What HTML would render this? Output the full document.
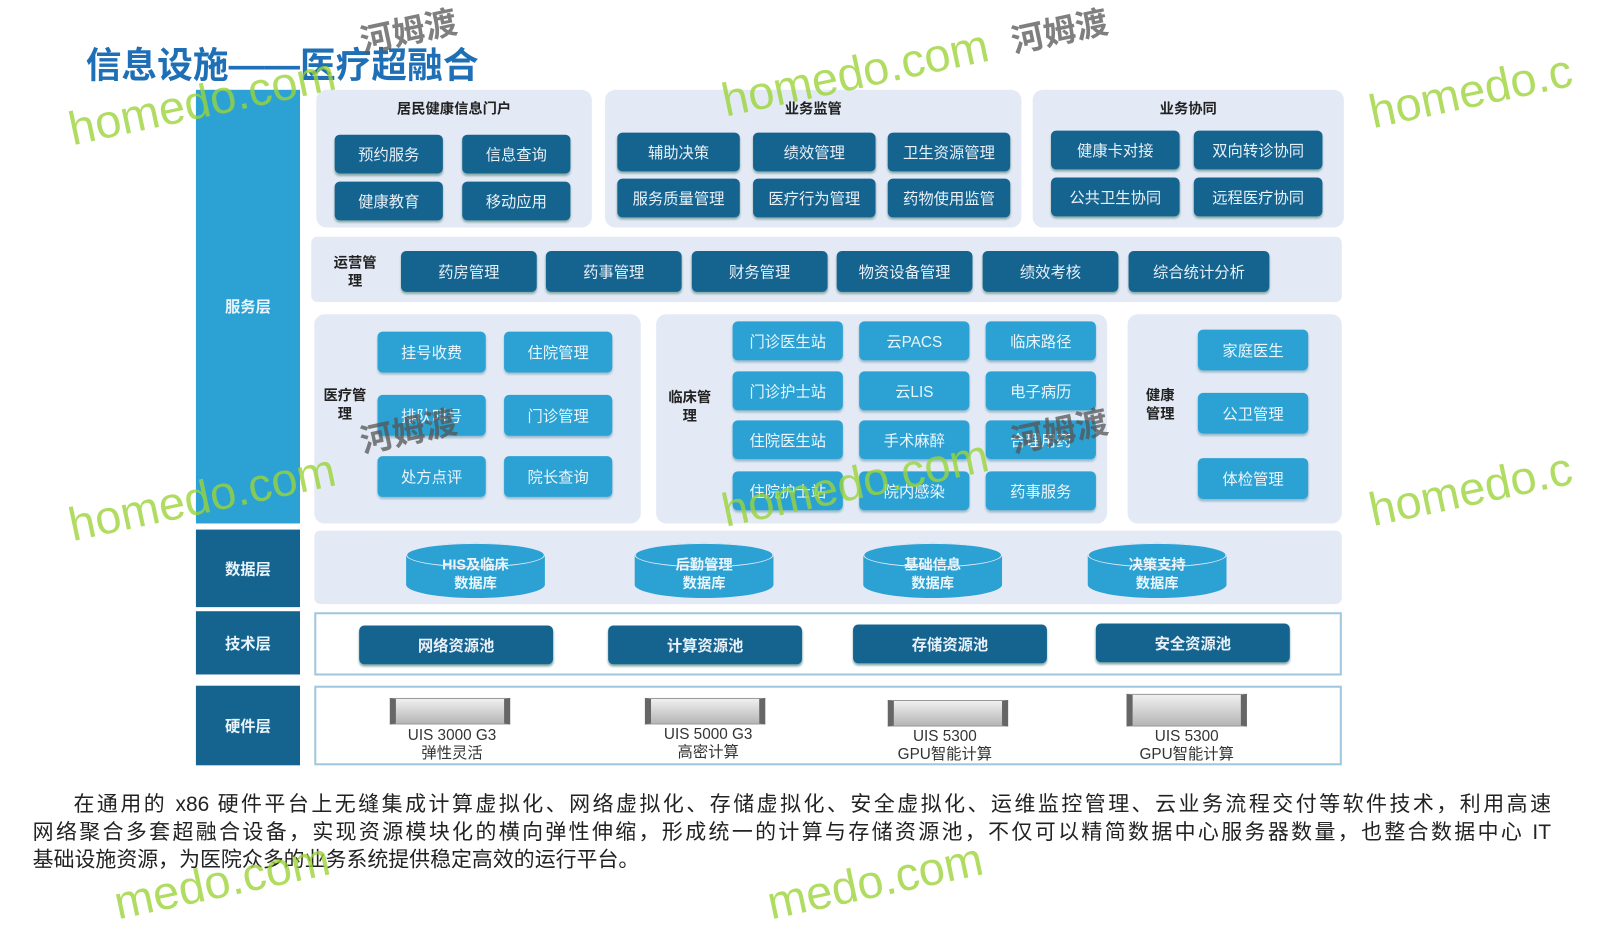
<!DOCTYPE html>
<html><head><meta charset="utf-8"><style>
*{margin:0;padding:0;box-sizing:border-box}
body{width:1600px;height:900px;background:#fff;position:relative;overflow:hidden;font-family:"Liberation Sans","Noto Sans CJK SC",sans-serif}
#w{position:absolute;left:0;top:0;width:1568px;height:882px;transform:scale(1.0204);transform-origin:0 0}
.a{position:absolute}
.p{position:absolute;background:#e4eaf5;border-radius:10px}
.d{position:absolute;background:#15648f;color:#e8f0f8;border-radius:5px;font-size:15px;display:flex;align-items:center;justify-content:center;box-shadow:0 2px 2px #8aa}
.l{position:absolute;background:#2ba2d3;color:#eaf6fc;border-radius:5px;font-size:15px;display:flex;align-items:center;justify-content:center;box-shadow:0 2px 2px #9bc}
.t{position:absolute;font-weight:bold;font-size:14px;color:#222;text-align:center;line-height:18px}
.bar{position:absolute;left:192px;width:102px;color:#e8f4fb;font-weight:bold;font-size:15px;display:flex;align-items:center;justify-content:center}
.db{position:absolute;width:136px;height:54px;background:#2ba2d3;border-radius:50%/13px;color:#eaf6fc;font-weight:bold;font-size:14px;display:flex;align-items:center;justify-content:center;text-align:center;line-height:18px;padding-top:6px}
.db:before{content:"";position:absolute;left:0;top:0;width:100%;height:24px;border-radius:50%;border:1.5px solid #e4eaf5;box-sizing:border-box}
.srv{position:absolute;width:118px;height:26px;background:linear-gradient(#f0f0f0,#b5b5b5);border:1px solid #999;border-left:6px solid #666;border-right:6px solid #666}
.sl{position:absolute;font-size:15px;color:#333;text-align:center;width:160px;line-height:18px}
.wm{position:absolute;color:#9bd43a;font-size:46px;transform:rotate(-12deg);white-space:nowrap;opacity:.8}
.wc{position:absolute;color:#555;font-size:32px;font-weight:bold;transform:rotate(-12deg);opacity:.75}
.ln{position:absolute;left:32px;width:1488px;font-size:20.5px;line-height:27px;color:#222;white-space:nowrap;text-align:justify;text-align-last:justify}
</style></head><body><div id="w">
<div class="a" style="left:84px;top:36px;font-size:35px;font-weight:bold;color:#1e6fb5">信息设施——医疗超融合</div>

<div class="bar" style="top:88px;height:425px;background:#2ba2d3">服务层</div>
<div class="bar" style="top:519px;height:76px;background:#15648f">数据层</div>
<div class="bar" style="top:599px;height:62px;background:#15648f">技术层</div>
<div class="bar" style="top:672px;height:78px;background:#15648f">硬件层</div>

<div class="p" style="left:310px;top:88px;width:270px;height:135px"></div>
<div class="t" style="left:310px;top:97px;width:270px">居民健康信息门户</div>
<div class="d" style="left:328px;top:132px;width:106px;height:38px">预约服务</div>
<div class="d" style="left:453px;top:132px;width:106px;height:38px">信息查询</div>
<div class="d" style="left:328px;top:178px;width:106px;height:38px">健康教育</div>
<div class="d" style="left:453px;top:178px;width:106px;height:38px">移动应用</div>

<div class="p" style="left:593px;top:88px;width:408px;height:135px"></div>
<div class="t" style="left:593px;top:97px;width:408px">业务监管</div>
<div class="d" style="left:605px;top:130px;width:120px;height:38px">辅助决策</div>
<div class="d" style="left:738px;top:130px;width:120px;height:38px">绩效管理</div>
<div class="d" style="left:870px;top:130px;width:120px;height:38px">卫生资源管理</div>
<div class="d" style="left:605px;top:175px;width:120px;height:38px">服务质量管理</div>
<div class="d" style="left:738px;top:175px;width:120px;height:38px">医疗行为管理</div>
<div class="d" style="left:870px;top:175px;width:120px;height:38px">药物使用监管</div>

<div class="p" style="left:1012px;top:88px;width:305px;height:135px"></div>
<div class="t" style="left:1012px;top:97px;width:305px">业务协同</div>
<div class="d" style="left:1030px;top:128px;width:126px;height:38px">健康卡对接</div>
<div class="d" style="left:1170px;top:128px;width:126px;height:38px">双向转诊协同</div>
<div class="d" style="left:1030px;top:174px;width:126px;height:38px">公共卫生协同</div>
<div class="d" style="left:1170px;top:174px;width:126px;height:38px">远程医疗协同</div>

<div class="p" style="left:305px;top:232px;width:1010px;height:64px;border-radius:6px"></div>
<div class="t" style="left:318px;top:248px;width:60px">运营管<br>理</div>
<div class="d" style="left:393px;top:246px;width:133px;height:40px">药房管理</div>
<div class="d" style="left:535px;top:246px;width:133px;height:40px">药事管理</div>
<div class="d" style="left:678px;top:246px;width:133px;height:40px">财务管理</div>
<div class="d" style="left:820px;top:246px;width:133px;height:40px">物资设备管理</div>
<div class="d" style="left:963px;top:246px;width:133px;height:40px">绩效考核</div>
<div class="d" style="left:1106px;top:246px;width:138px;height:40px">综合统计分析</div>

<div class="p" style="left:308px;top:308px;width:320px;height:205px"></div>
<div class="t" style="left:308px;top:378px;width:60px">医疗管<br>理</div>
<div class="l" style="left:370px;top:325px;width:106px;height:40px">挂号收费</div>
<div class="l" style="left:494px;top:325px;width:106px;height:40px">住院管理</div>
<div class="l" style="left:370px;top:387px;width:106px;height:40px">排队叫号</div>
<div class="l" style="left:494px;top:387px;width:106px;height:40px">门诊管理</div>
<div class="l" style="left:370px;top:447px;width:106px;height:40px">处方点评</div>
<div class="l" style="left:494px;top:447px;width:106px;height:40px">院长查询</div>

<div class="p" style="left:643px;top:308px;width:442px;height:205px"></div>
<div class="t" style="left:645px;top:380px;width:62px">临床管<br>理</div>
<div class="l" style="left:718px;top:315px;width:108px;height:38px">门诊医生站</div>
<div class="l" style="left:842px;top:315px;width:108px;height:38px">云PACS</div>
<div class="l" style="left:966px;top:315px;width:108px;height:38px">临床路径</div>
<div class="l" style="left:718px;top:364px;width:108px;height:38px">门诊护士站</div>
<div class="l" style="left:842px;top:364px;width:108px;height:38px">云LIS</div>
<div class="l" style="left:966px;top:364px;width:108px;height:38px">电子病历</div>
<div class="l" style="left:718px;top:412px;width:108px;height:38px">住院医生站</div>
<div class="l" style="left:842px;top:412px;width:108px;height:38px">手术麻醉</div>
<div class="l" style="left:966px;top:412px;width:108px;height:38px">合理用药</div>
<div class="l" style="left:718px;top:462px;width:108px;height:38px">住院护士站</div>
<div class="l" style="left:842px;top:462px;width:108px;height:38px">院内感染</div>
<div class="l" style="left:966px;top:462px;width:108px;height:38px">药事服务</div>

<div class="p" style="left:1105px;top:308px;width:210px;height:205px"></div>
<div class="t" style="left:1112px;top:378px;width:50px">健康<br>管理</div>
<div class="l" style="left:1174px;top:323px;width:108px;height:40px">家庭医生</div>
<div class="l" style="left:1174px;top:385px;width:108px;height:40px">公卫管理</div>
<div class="l" style="left:1174px;top:449px;width:108px;height:40px">体检管理</div>

<div class="p" style="left:308px;top:520px;width:1007px;height:72px;border-radius:6px"></div>
<div class="db" style="left:398px;top:532px">HIS及临床<br>数据库</div>
<div class="db" style="left:622px;top:532px">后勤管理<br>数据库</div>
<div class="db" style="left:846px;top:532px">基础信息<br>数据库</div>
<div class="db" style="left:1066px;top:532px">决策支持<br>数据库</div>

<div class="a" style="left:308px;top:600px;width:1007px;height:62px;border:2px solid #9fc7de;background:#fff"></div>
<div class="d" style="left:352px;top:613px;width:190px;height:38px;font-weight:bold">网络资源池</div>
<div class="d" style="left:596px;top:613px;width:190px;height:38px;font-weight:bold">计算资源池</div>
<div class="d" style="left:836px;top:612px;width:190px;height:38px;font-weight:bold">存储资源池</div>
<div class="d" style="left:1074px;top:611px;width:190px;height:38px;font-weight:bold">安全资源池</div>

<div class="a" style="left:308px;top:672px;width:1007px;height:78px;border:2px solid #9fc7de;background:#fff"></div>
<div class="srv" style="left:382px;top:684px"></div>
<div class="srv" style="left:632px;top:684px"></div>
<div class="srv" style="left:870px;top:686px"></div>
<div class="srv" style="left:1104px;top:680px;height:32px"></div>
<div class="sl" style="left:363px;top:712px">UIS 3000 G3<br>弹性灵活</div>
<div class="sl" style="left:614px;top:711px">UIS 5000 G3<br>高密计算</div>
<div class="sl" style="left:846px;top:713px">UIS 5300<br>GPU智能计算</div>
<div class="sl" style="left:1083px;top:713px">UIS 5300<br>GPU智能计算</div>

<div class="ln" style="top:775px;padding-left:40px">在通用的 x86 硬件平台上无缝集成计算虚拟化、网络虚拟化、存储虚拟化、安全虚拟化、运维监控管理、云业务流程交付等软件技术，利用高速</div>
<div class="ln" style="top:802px">网络聚合多套超融合设备，实现资源模块化的横向弹性伸缩，形成统一的计算与存储资源池，不仅可以精简数据中心服务器数量，也整合数据中心 IT</div>
<div class="ln" style="top:829px;text-align:left;text-align-last:left">基础设施资源，为医院众多的业务系统提供稳定高效的运行平台。</div>

<div class="wm" style="left:65px;top:72px">homedo.com</div>
<div class="wm" style="left:705px;top:44px">homedo.com</div>
<div class="wm" style="left:1340px;top:62px">homedo.c</div>
<div class="wm" style="left:65px;top:460px">homedo.com</div>
<div class="wm" style="left:705px;top:446px">homedo.com</div>
<div class="wm" style="left:1340px;top:452px">homedo.c</div>
<div class="wm" style="left:110px;top:836px">medo.com</div>
<div class="wm" style="left:750px;top:836px">medo.com</div>
<div class="wc" style="left:352px;top:6px">河姆渡</div>
<div class="wc" style="left:990px;top:6px">河姆渡</div>
<div class="wc" style="left:352px;top:398px">河姆渡</div>
<div class="wc" style="left:990px;top:398px">河姆渡</div>
</div></body></html>
